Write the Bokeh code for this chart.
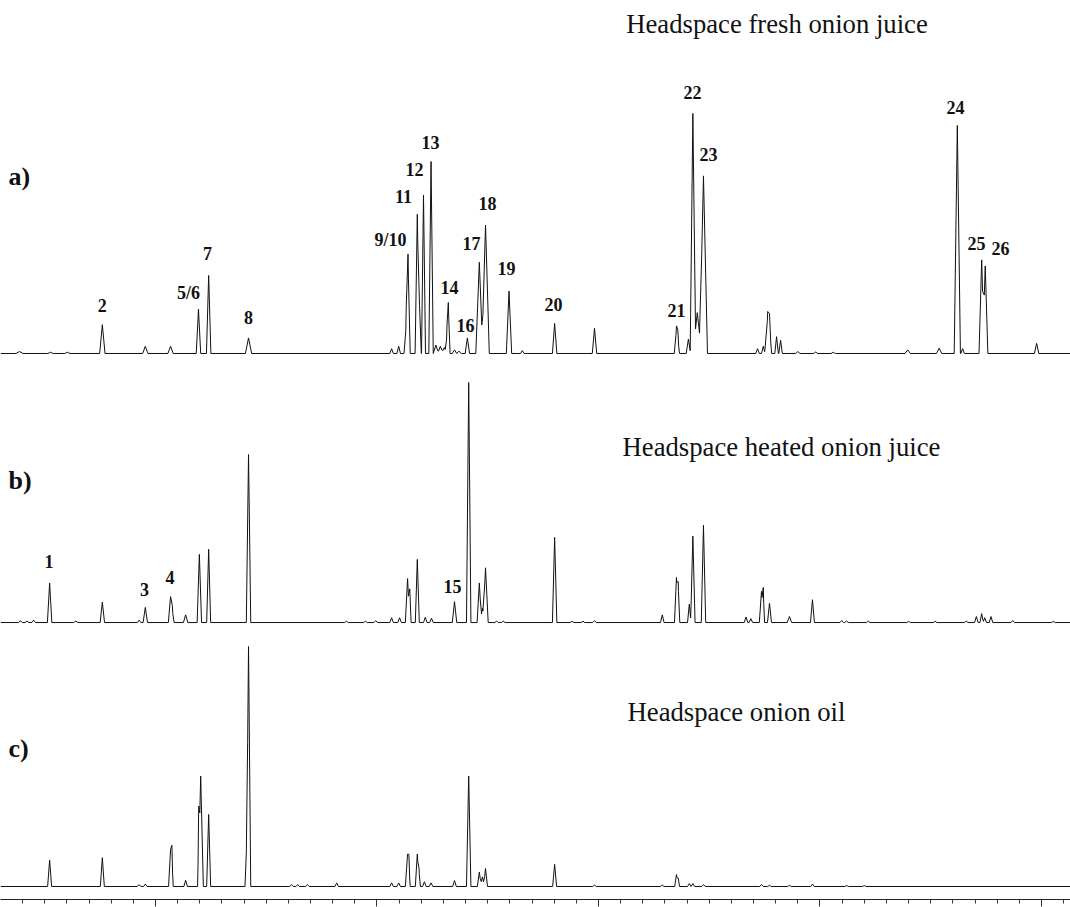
from bokeh.plotting import figure
from bokeh.models import ColumnDataSource, FixedTicker, Range1d, CustomJSTickFormatter
from bokeh.core.properties import value
from bokeh.embed import file_html
from bokeh.resources import INLINE
import numpy as np

# ---- data: retention time (min), relative intensity (% of largest peak in panel), half-width (min)
rt_a = [1.93, 2.63, 3.01, 3.80, 4.77, 5.34, 5.97, 6.20, 7.10, 10.33, 10.49, 10.66, 10.70,
        10.91, 10.96, 11.05, 11.22, 11.33, 11.43, 11.52, 11.58, 11.61, 11.75, 11.85, 12.04,
        12.31, 12.45, 12.98, 13.28, 14.01, 14.91, 16.76, 16.79, 17.03, 17.13, 17.23, 17.37,
        18.59, 18.72, 18.82, 18.86, 19.02, 19.11, 19.50, 19.90, 20.30, 21.98, 22.69, 23.10,
        23.22, 23.65, 23.73, 24.89]
h_a = [0.8, 0.5, 0.5, 12.0, 3.0, 3.0, 18.5, 32.5, 6.5, 2.0, 3.0, 12.0, 39.0,
       58.0, 20.0, 66.0, 80.0, 3.5, 3.0, 2.5, 7.0, 19.5, 1.5, 1.0, 6.5,
       38.0, 53.5, 26.0, 1.2, 12.5, 10.5, 10.0, 6.0, 6.0, 100.0, 17.0, 74.0,
       2.0, 3.0, 15.5, 10.0, 7.0, 5.5, 0.8, 0.6, 0.5, 1.5, 2.2, 95.0,
       2.0, 39.0, 36.5, 4.2]
w_a = [0.08, 0.06, 0.06, 0.06, 0.06, 0.06, 0.05, 0.05, 0.07, 0.04, 0.04, 0.05, 0.05,
       0.05, 0.04, 0.045, 0.05, 0.06, 0.06, 0.06, 0.04, 0.04, 0.05, 0.05, 0.05,
       0.08, 0.085, 0.06, 0.04, 0.05, 0.05, 0.05, 0.04, 0.05, 0.06, 0.10, 0.09,
       0.04, 0.04, 0.07, 0.05, 0.04, 0.04, 0.05, 0.05, 0.05, 0.06, 0.06, 0.07,
       0.04, 0.06, 0.06, 0.05]

rt_b = [1.95, 2.10, 2.25, 2.61, 3.20, 3.80, 4.63, 4.77, 5.34, 5.38, 5.68, 5.99, 6.20, 7.10,
        9.31, 9.74, 9.97, 10.33, 10.51, 10.69, 10.74, 10.91, 11.09, 11.23, 11.75, 12.07,
        12.31, 12.38, 12.45, 12.70, 12.85, 14.01, 14.40, 14.65, 14.91, 16.44, 16.76, 16.80,
        17.05, 17.13, 17.37, 18.33, 18.44, 18.68, 18.72, 18.86, 19.31, 19.83, 20.49, 20.60,
        21.09, 22.00, 22.60, 23.30, 23.53, 23.65, 23.72, 23.86, 24.35, 25.27]
h_b = [0.8, 0.6, 1.0, 16.5, 0.6, 8.5, 1.0, 6.3, 10.8, 5.0, 3.2, 28.4, 30.5, 70.0,
       0.6, 0.6, 0.8, 2.0, 2.0, 18.3, 14.0, 26.3, 2.2, 1.8, 8.7, 100.0,
       16.5, 6.0, 22.8, 0.6, 0.6, 35.5, 0.5, 0.6, 0.8, 3.2, 18.8, 15.0,
       7.7, 36.0, 40.5, 2.3, 1.6, 13.0, 12.0, 8.0, 2.5, 9.5, 0.8, 0.6,
       0.6, 0.5, 0.5, 0.6, 2.5, 3.7, 2.0, 2.5, 0.8, 0.5]
w_b = [0.04, 0.04, 0.04, 0.05, 0.05, 0.05, 0.04, 0.05, 0.05, 0.04, 0.05, 0.05, 0.045, 0.05,
       0.04, 0.04, 0.04, 0.04, 0.04, 0.05, 0.03, 0.045, 0.04, 0.04, 0.05, 0.05,
       0.05, 0.05, 0.06, 0.04, 0.04, 0.05, 0.04, 0.04, 0.04, 0.04, 0.045, 0.035,
       0.04, 0.05, 0.05, 0.04, 0.04, 0.05, 0.03, 0.045, 0.05, 0.045, 0.04, 0.04,
       0.04, 0.04, 0.04, 0.04, 0.04, 0.04, 0.04, 0.04, 0.04, 0.04]

rt_c = [2.61, 3.80, 4.63, 4.77, 5.34, 5.37, 5.68, 5.975, 6.02, 6.20, 7.05, 7.10,
        8.07, 8.21, 8.43, 9.09, 10.33, 10.49, 10.69, 10.72, 10.91, 10.95, 11.07, 11.22,
        11.75, 12.07, 12.31, 12.38, 12.45, 14.01, 14.91, 16.44, 16.76, 16.80, 17.05, 17.13,
        17.37, 18.68, 18.86, 19.31, 19.83, 20.60, 21.00]
h_c = [11.0, 12.0, 0.8, 1.0, 15.5, 12.0, 2.6, 22.0, 46.0, 30.0, 14.0, 100.0,
       0.8, 0.8, 0.8, 1.5, 1.5, 1.5, 13.5, 8.0, 13.5, 6.0, 2.0, 1.5,
       2.5, 46.0, 6.0, 4.0, 7.5, 9.2, 0.6, 0.6, 5.0, 3.5, 1.2, 1.2,
       0.8, 0.8, 0.5, 0.5, 1.0, 0.4, 0.4]
w_c = [0.045, 0.045, 0.04, 0.04, 0.045, 0.03, 0.04, 0.025, 0.06, 0.045, 0.03, 0.05,
       0.04, 0.04, 0.04, 0.04, 0.04, 0.04, 0.05, 0.03, 0.045, 0.03, 0.04, 0.04,
       0.04, 0.05, 0.045, 0.05, 0.045, 0.045, 0.04, 0.04, 0.04, 0.03, 0.04, 0.04,
       0.04, 0.04, 0.04, 0.04, 0.04, 0.04, 0.04]

# peak labels: text, retention time, relative height
lab_a = ["2", "5/6", "7", "8", "9/10", "11", "12", "13", "14", "16", "17", "18", "19",
         "20", "21", "22", "23", "24", "25", "26"]
lab_a_rt = [3.80, 5.745, 6.174, 7.099, 10.305, 10.598, 10.847, 11.208, 11.637, 11.998,
            12.133, 12.494, 12.923, 13.984, 16.761, 17.122, 17.483, 23.059, 23.533, 24.074]
lab_a_h = [20.2, 25.0, 41.5, 14.8, 47.1, 65.4, 76.7, 87.9, 27.5, 11.7, 45.8, 62.5, 35.4,
           20.4, 17.9, 108.75, 82.9, 102.5, 45.8, 43.75]
lab_b = ["1", "3", "4", "15"]
lab_b_rt = [2.596, 4.752, 5.327, 11.704]
lab_b_h = [25.4, 13.8, 18.8, 15.0]

titles = ["Headspace fresh onion juice", "Headspace heated onion juice", "Headspace onion oil"]
panels = ["a)", "b)", "c)"]

# ---- layout constants
X0, X1 = 1.501, 25.655
Y0, Y1 = 0.0, 374.58
base = [227.5, 115.4, 5.42]
title_pos = [(19.03, 137.1), (19.13, 73.3), (18.115, 72.9)]
panel_x = 1.682
panel_pos = [73.75, 59.2, 57.5]

SERIF = "Liberation Serif"


def trace(rts, hs, ws):
    xs = {X0, X1}
    for r, w in zip(rts, ws):
        xs.update([r - w, r, r + w])
    xs = np.array(sorted(xs))
    ys = np.zeros_like(xs)
    for r, h, w in zip(rts, hs, ws):
        ys += np.clip(h * (1 - np.abs(xs - r) / w), 0, None)
    return xs, ys


p = figure(width=1070, height=907, output_backend="svg", toolbar_location=None,
           x_range=Range1d(X0, X1), y_range=Range1d(Y0, Y1),
           y_axis_location=None, min_border_left=0, min_border_right=0,
           min_border_top=0, min_border_bottom=8)
p.grid.visible = False
p.outline_line_color = None
p.background_fill_color = "white"

for i, (rts, hs, ws) in enumerate([(rt_a, h_a, w_a), (rt_b, h_b, w_b), (rt_c, h_c, w_c)]):
    xs, ys = trace(rts, hs, ws)
    p.line(xs, ys + base[i], line_color="#111111", line_width=1)

# peak labels
for labs, lrt, lh, b in [(lab_a, lab_a_rt, lab_a_h, base[0]), (lab_b, lab_b_rt, lab_b_h, base[1])]:
    src = ColumnDataSource(dict(x=lrt, y=[v + b for v in lh], t=labs))
    p.text(x="x", y="y", text="t", source=src, text_align="center", text_baseline="middle",
           text_font=value(SERIF), text_font_style="bold", text_font_size="18px",
           text_color="#111111")

# titles
src_t = ColumnDataSource(dict(x=[t[0] for t in title_pos],
                              y=[t[1] + b for t, b in zip(title_pos, base)], t=titles))
p.text(x="x", y="y", text="t", source=src_t, text_align="center", text_baseline="middle",
       text_font=value(SERIF), text_font_size="26.7px", text_color="#111111")

# panel letters
src_p = ColumnDataSource(dict(x=[panel_x] * 3, y=[v + b for v, b in zip(panel_pos, base)], t=panels))
p.text(x="x", y="y", text="t", source=src_p, text_align="left", text_baseline="middle",
       text_font=value(SERIF), text_font_style="bold", text_font_size="26px",
       text_color="#111111")

# x axis: ticks only, no tick labels
ax = p.xaxis[0]
ax.ticker = FixedTicker(ticks=[5, 10, 15, 20, 25],
                        minor_ticks=list(np.arange(2.0, 25.51, 0.5)))
ax.formatter = CustomJSTickFormatter(code="return '';")
ax.major_label_standoff = 0
ax.major_tick_out = 7
ax.major_tick_in = 0
ax.minor_tick_out = 4
ax.minor_tick_in = 0
ax.axis_line_color = "#222222"
ax.major_tick_line_color = "#333333"
ax.minor_tick_line_color = "#333333"

open("out.html", "w").write(file_html(p, INLINE))
